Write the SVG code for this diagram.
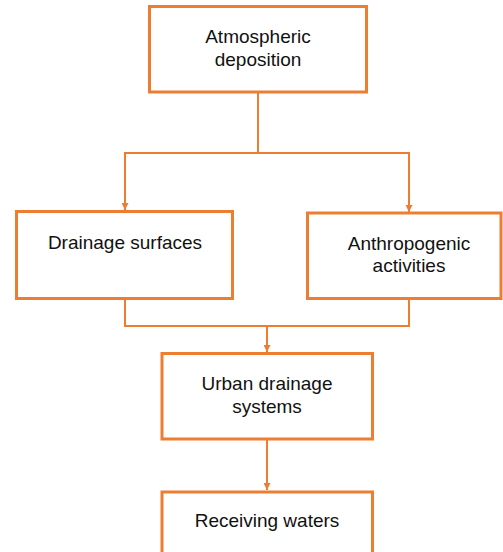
<svg xmlns="http://www.w3.org/2000/svg" width="503" height="552" viewBox="0 0 503 552">
<style>
.box{fill:#fff;stroke:#ED7D31;stroke-width:3}
.lbl{font-family:"Liberation Sans",Arial,sans-serif;font-size:19px;fill:#111;text-anchor:middle}
.con{fill:none;stroke:#ED7D31;stroke-width:2}
</style>
<defs>
<marker id="arr" viewBox="0 0 10 10" refX="10" refY="5" markerWidth="7" markerHeight="7" markerUnits="userSpaceOnUse" orient="auto">
<path d="M0,0 L10,5 L0,10 z" fill="#ED7D31"/>
</marker>
</defs>
<rect width="503" height="552" fill="#fff"/>
<g id="connectors">
<path class="con" d="M258,92 V153 H125 V210" marker-end="url(#arr)"/>
<path class="con" d="M258,153 H409 V212" marker-end="url(#arr)"/>
<path class="con" d="M125,298 V326 H409 V298"/>
<path class="con" d="M267,326 V352" marker-end="url(#arr)"/>
<path class="con" d="M267,439 V490" marker-end="url(#arr)"/>
</g>
<g id="atmospheric">
<rect class="box" x="149.5" y="6.5" width="217" height="85.5"/>
<text class="lbl" x="258" y="43">Atmospheric</text>
<text class="lbl" x="258" y="65.5">deposition</text>
</g>
<g id="drainage">
<rect class="box" x="16.5" y="211.5" width="216" height="87"/>
<text class="lbl" x="125" y="248.5">Drainage surfaces</text>
</g>
<g id="anthropogenic">
<rect class="box" x="307.5" y="213" width="193.5" height="85.5"/>
<text class="lbl" x="409" y="249.5">Anthropogenic</text>
<text class="lbl" x="409" y="272">activities</text>
</g>
<g id="urban">
<rect class="box" x="162" y="353.5" width="210.5" height="85.5"/>
<text class="lbl" x="267" y="390">Urban drainage</text>
<text class="lbl" x="267" y="412.5">systems</text>
</g>
<g id="receiving">
<rect class="box" x="162" y="492" width="210.5" height="90"/>
<text class="lbl" x="267" y="527">Receiving waters</text>
</g>
</svg>
